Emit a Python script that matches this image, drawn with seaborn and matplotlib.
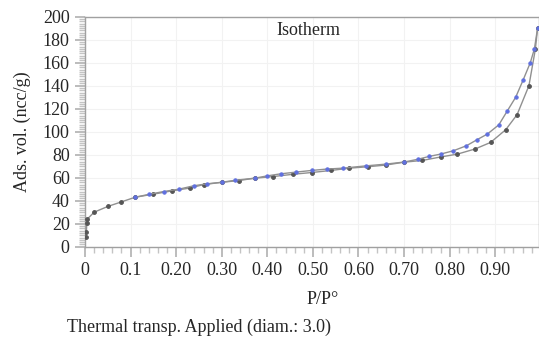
import matplotlib
matplotlib.use("Agg")
import matplotlib.pyplot as plt
from matplotlib.ticker import MultipleLocator, FixedLocator
import seaborn as sns
import pandas as pd

# Adsorption branch (P/P0, volume)
ads_p = [0.002, 0.003, 0.004, 0.005, 0.02, 0.05, 0.08, 0.11, 0.15, 0.19, 0.23, 0.26,
         0.30, 0.337, 0.373, 0.413, 0.457, 0.497, 0.54, 0.58, 0.62, 0.66, 0.70, 0.74,
         0.78, 0.817, 0.856, 0.89, 0.923, 0.948, 0.974, 0.988, 0.993]
ads_v = [8.7, 13, 20.6, 24, 30, 35, 39, 43, 45.7, 48.5, 51, 54,
         56, 57.5, 59.6, 61, 63, 64.5, 66.3, 68.3, 69.5, 71, 73.5, 75,
         78, 80.5, 85, 90.7, 101.7, 114.8, 140, 171.5, 190]

# Desorption branch
des_p = [0.993, 0.986, 0.977, 0.961, 0.945, 0.926, 0.908, 0.883, 0.86, 0.837, 0.808,
         0.78, 0.755, 0.73, 0.70, 0.66, 0.617, 0.566, 0.53, 0.497, 0.464, 0.43, 0.40,
         0.373, 0.33, 0.30, 0.268, 0.239, 0.206, 0.173, 0.14, 0.11]
des_v = [190, 172, 160, 144.7, 130, 117.7, 106, 98, 93, 87.8, 83.4,
         80.5, 78.5, 76, 73.6, 71.8, 70.3, 68.3, 67.5, 66.3, 64.9, 63.4, 61.6,
         59.6, 57.8, 56, 54.7, 53, 50, 48, 45.5, 43]

x_ticks = [0, 0.1, 0.2, 0.3, 0.4, 0.5, 0.6, 0.7, 0.8, 0.9, 1.0]
x_labels = ["0", "0.1", "0.20", "0.30", "0.40", "0.50", "0.60", "0.70", "0.80", "0.90", "1"]

ads = pd.DataFrame({"p": ads_p, "v": ads_v})
des = pd.DataFrame({"p": des_p, "v": des_v})

sns.set_style("white")
plt.rcParams["font.family"] = ["Liberation Serif", "DejaVu Serif"]

fig = plt.figure(figsize=(5.39, 3.43), dpi=100)
ax = fig.add_axes([85 / 539, 96.3 / 343, 453.5 / 539, 230 / 343])

sns.lineplot(data=ads, x="p", y="v", sort=False, ax=ax, color="#909090", lw=1,
             marker="o", markersize=2.7, markerfacecolor="#555555",
             markeredgecolor="#555555", zorder=3)
sns.lineplot(data=des, x="p", y="v", sort=False, ax=ax, color="#909090", lw=1,
             marker="o", markersize=2.4, markerfacecolor="#6070e0",
             markeredgecolor="#6070e0", zorder=4)

ax.set_xlim(0, 0.995)
ax.set_ylim(0, 200)
ax.xaxis.set_major_locator(FixedLocator(x_ticks))
ax.set_xticklabels(x_labels)
ax.xaxis.set_minor_locator(MultipleLocator(0.02))
ax.yaxis.set_major_locator(MultipleLocator(20))
ax.yaxis.set_minor_locator(MultipleLocator(2))

ax.grid(True, which="major", color="#f2f2f2", lw=0.8)
ax.set_axisbelow(True)
for s in ax.spines.values():
    s.set_color("#a0a0a0")
    s.set_linewidth(1)

ax.tick_params(which="major", direction="out", length=7, width=1.2, color="#b0b0b0",
               labelsize=13, pad=4, bottom=True, left=True)
ax.tick_params(which="minor", direction="out", length=4.5, width=1, color="#c4c4c4",
               bottom=True, left=True)
ax.set_xlabel("")
ax.set_ylabel("")

fig.text(276 / 539, 1 - 35 / 343, "Isotherm", fontsize=13, va="baseline", ha="left")
fig.text(22.5 / 539, 0.617, "Ads. vol. (ncc/g)", fontsize=13, rotation=90,
         ha="center", va="center")
fig.text(323 / 539, 1 - 300 / 343, "P/P°", fontsize=13, ha="center", va="center")
fig.text(67 / 539, 1 - 327 / 343, "Thermal transp. Applied (diam.: 3.0)", fontsize=13,
         ha="left", va="center")

fig.savefig("out.png", dpi=100)
